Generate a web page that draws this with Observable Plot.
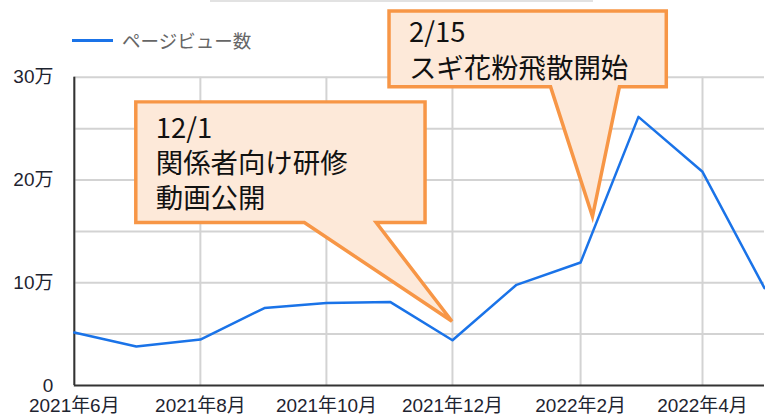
<!DOCTYPE html>
<html>
<head>
<meta charset="utf-8">
<script src="https://cdn.jsdelivr.net/npm/d3@7"></script>
<script src="https://cdn.jsdelivr.net/npm/@observablehq/plot@0.6"></script>
<style>
  html, body { margin: 0; padding: 0; background: #fff; overflow: hidden; }
  #wrap { position: relative; width: 765px; height: 416px; overflow: hidden; }
  #legend { position: absolute; left: 72px; top: 27px; display: flex; align-items: center;
    font-family: "Liberation Sans", "Noto Sans CJK JP", sans-serif; font-size: 18.5px; color: #666; }
  #legend .sw { width: 41px; height: 3px; background: #1a73e8; margin-right: 9px; }
  #topline { position: absolute; left: 210px; top: 0; width: 383px; height: 2px; background: #e2e2e2; }
</style>
</head>
<body>
<div id="wrap">
  <div id="topline"></div>
  <div id="legend"><div class="sw"></div><span id="legendText"></span></div>
</div>
<script>
// ---- data ----
const months = ["2021-06","2021-07","2021-08","2021-09","2021-10","2021-11","2021-12","2022-01","2022-02","2022-03","2022-04","2022-05"];
const pageViews = [51500, 38000, 44700, 75400, 80300, 81200, 44000, 98000, 119700, 261500, 208000, 94700];
const seriesName = "ページビュー数";
const xTickMonths = ["2021-06","2021-08","2021-10","2021-12","2022-02","2022-04"];
const yTickValues = [0, 100000, 200000, 300000];
const yTickLabels = ["0", "10万", "20万", "30万"];
const yGridValues = [50000, 100000, 150000, 200000, 250000, 300000];
// callouts: tip anchored in data space
const noteTipDates = ["2021-12-01", "2022-02-07"];
const noteTipValues = [62000, 164000];
const noteLines = [["12/1", "関係者向け研修", "動画公開"], ["2/15", "スギ花粉飛散開始"]];

// ---- build ----
const parse = s => new Date(s.length === 7 ? s + "-01T00:00:00Z" : s + "T00:00:00Z");
const data = months.map((m, i) => ({date: parse(m), value: pageViews[i]}));
const xTicks = xTickMonths.map(parse);

document.getElementById("legendText").textContent = seriesName;

const chart = Plot.plot({
  width: 767,
  height: 416,
  marginTop: 77,
  marginBottom: 30,
  marginLeft: 74,
  marginRight: 1,
  style: {fontFamily: '"Liberation Sans", "Noto Sans CJK JP", sans-serif', color: "#1e2430", background: "transparent"},
  x: {type: "utc", domain: [parse(months[0]), parse(months[months.length - 1])]},
  y: {domain: [0, 300000]},
  marks: [
    Plot.gridY(yGridValues, {stroke: "#d3d3d3", strokeOpacity: 1, strokeWidth: 2}),
    Plot.gridX(xTicks, {stroke: "#d3d3d3", strokeOpacity: 1, strokeWidth: 2}),
    Plot.ruleY([0], {stroke: "#333", strokeWidth: 2}),
    Plot.ruleX([parse(months[0])], {y1: 0, y2: 300000, stroke: "#333", strokeWidth: 2}),
    Plot.axisY(yTickValues, {tickSize: 0, tickPadding: 21, fontSize: 19, label: null,
      tickFormat: d => yTickLabels[yTickValues.indexOf(d)]}),
    Plot.axisX(xTicks, {tickSize: 0, tickPadding: 13, fontSize: 19, label: null,
      tickFormat: d => `${d.getUTCFullYear()}年${d.getUTCMonth() + 1}月`}),
    Plot.line(data, {x: "date", y: "value", stroke: "#1a73e8", strokeWidth: 2.5})
  ]
});
document.getElementById("wrap").prepend(chart);

// ---- callouts (layout offsets in px relative to the anchored tip) ----
const xs = chart.scale("x"), ys = chart.scale("y");
const layouts = [
  {L: -317, R: -27, T: -220, B: -99, pL: -148, pR: -76, tx: 20, ty: [36, 71, 106], fs: 27.5},
  {L: -204, R: 74, T: -206, B: -130, pL: -42, pR: 27, tx: 20, ty: [31, 67], fs: 27.5}
];
const svg = d3.select(chart);
noteTipDates.forEach((d, i) => {
  const tx = xs.apply(parse(d)), ty = ys.apply(noteTipValues[i]);
  const o = layouts[i];
  const L = tx + o.L, R = tx + o.R, T = ty + o.T, B = ty + o.B;
  const path = `M${L},${T}H${R}V${B}H${tx + o.pR}L${tx},${ty}L${tx + o.pL},${B}H${L}Z`;
  const g = svg.append("g").attr("text-anchor", "start");
  g.append("path").attr("d", path).attr("fill", "#fde9d9").attr("stroke", "#f79646")
    .attr("stroke-width", 3.5).attr("stroke-linejoin", "miter");
  noteLines[i].forEach((line, j) => {
    g.append("text").attr("x", L + o.tx).attr("y", T + o.ty[j])
      .attr("text-anchor", "start")
      .attr("font-family", '"Noto Sans CJK JP", sans-serif').attr("font-size", o.fs)
      .attr("fill", "#111").text(line);
  });
});
</script>
</body>
</html>
